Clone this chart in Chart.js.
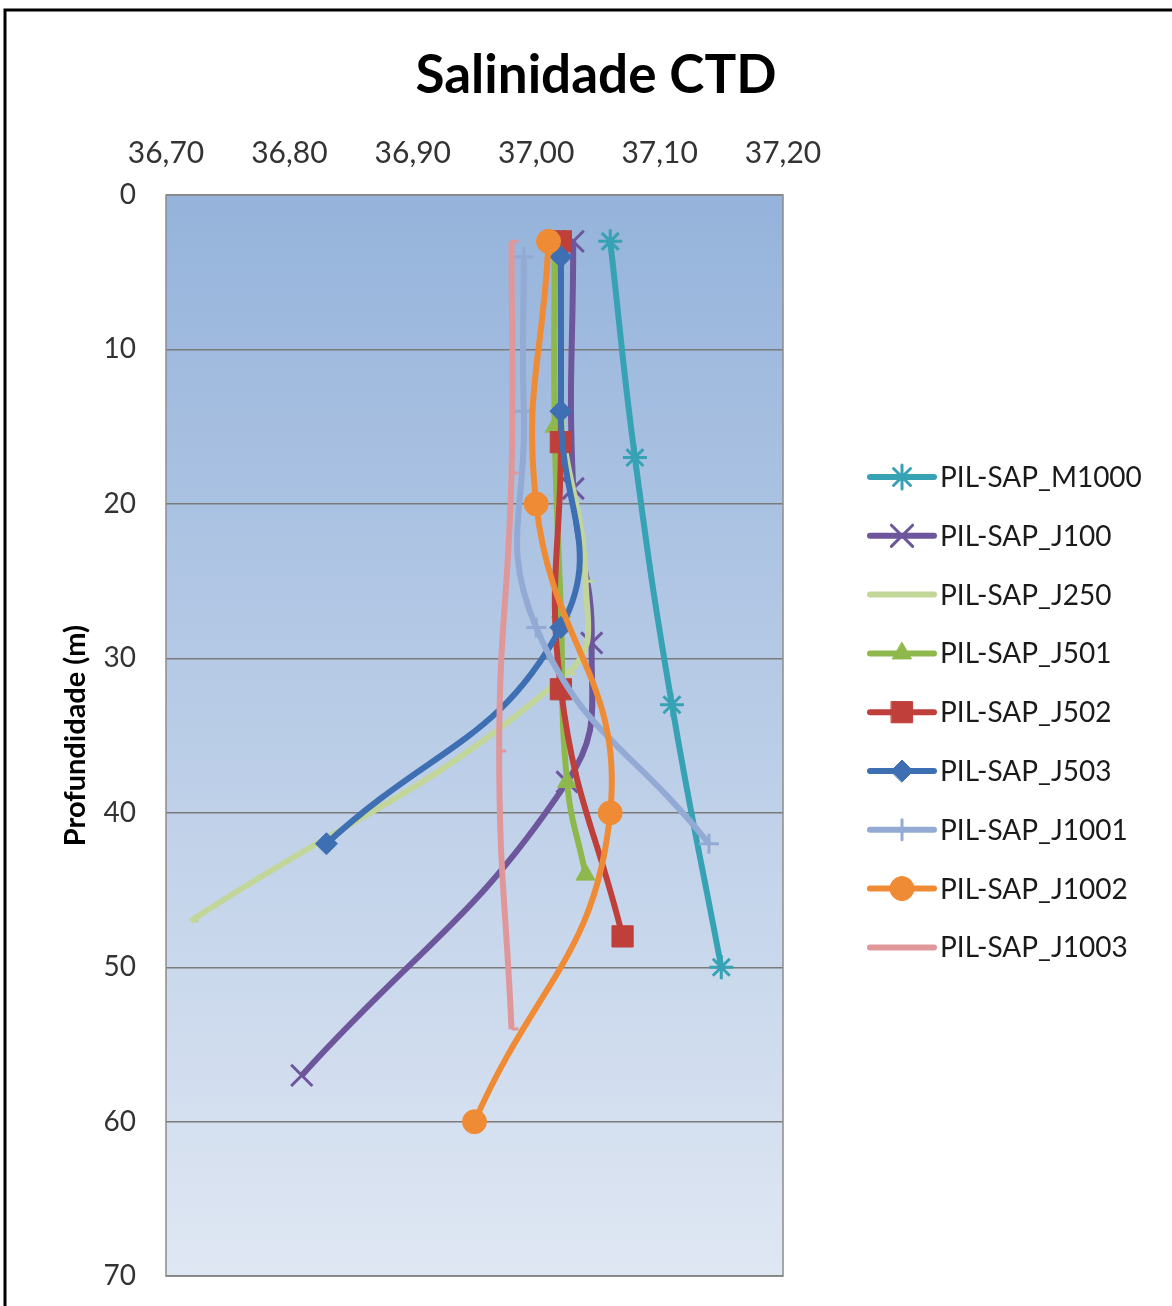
<!DOCTYPE html>
<html>
<head>
<meta charset="utf-8">
<script src="https://cdn.jsdelivr.net/npm/chart.js@4.4.1/dist/chart.umd.min.js"></script>
<style>
  html, body { margin: 0; padding: 0; background: #fff; overflow: hidden; }
  #wrap { width: 1172px; height: 1323px; position: relative; }
</style>
</head>
<body>
<div id="wrap"><canvas id="ctd"></canvas></div>
<script>
// salinity (x) vs depth in metres (y), one array pair per station
const xTicks = [36.70, 36.80, 36.90, 37.00, 37.10, 37.20];
const depthTicks = [0, 10, 20, 30, 40, 50, 60, 70];

const seriesNames = ["PIL-SAP_M1000", "PIL-SAP_J100", "PIL-SAP_J250", "PIL-SAP_J501", "PIL-SAP_J502",
                     "PIL-SAP_J503", "PIL-SAP_J1001", "PIL-SAP_J1002", "PIL-SAP_J1003"];

const salM1000 = [37.06, 37.08, 37.11, 37.15];
const depM1000 = [3, 17, 33, 50];

const salJ100 = [37.03, 37.03, 37.045, 37.025, 36.81];
const depJ100 = [3, 19, 29, 38, 57];

const salJ250 = [37.02, 37.02, 37.04, 37.025, 36.72];
const depJ250 = [3, 14, 25, 31, 47];

const salJ501 = [37.015, 37.015, 37.02, 37.025, 37.04];
const depJ501 = [3, 15, 27, 38, 44];

const salJ502 = [37.02, 37.02, 37.02, 37.07];
const depJ502 = [3, 16, 32, 48];

const salJ503 = [37.02, 37.02, 37.02, 36.83];
const depJ503 = [4, 14, 28, 42];

const salJ1001 = [36.99, 36.99, 37.00, 37.14];
const depJ1001 = [4, 14, 28, 42];

const salJ1002 = [37.01, 37.00, 37.06, 36.95];
const depJ1002 = [3, 20, 40, 60];

const salJ1003 = [36.98, 36.98, 36.97, 36.98];
const depJ1003 = [3, 18, 36, 54];

const salinity = [salM1000, salJ100, salJ250, salJ501, salJ502, salJ503, salJ1001, salJ1002, salJ1003];
const depth = [depM1000, depJ100, depJ250, depJ501, depJ502, depJ503, depJ1001, depJ1002, depJ1003];

const colors = ["#36a2b4", "#6e569c", "#c2d69a", "#8fb84c", "#bf3f3b", "#3f6fb3", "#93aad4", "#f08b35", "#df979a"];
const markers = ["star", "crossRot", "dash", "triangle", "rect", "rectRot", "cross", "circle", "dash"];
const markerSize = [12, 15, 8, 11, 15, 11, 10, 12, 7];

const FONT = "Lato, 'Open Sans', sans-serif";

function makePoints(i) {
    return salinity[i].map((s, k) => ({ x: s, y: depth[i][k] }));
}

const datasets = seriesNames.map((name, i) => {
    const open = ["star", "crossRot", "cross", "dash"].includes(markers[i]);
    return {
        label: name,
        data: makePoints(i),
        showLine: true,
        tension: 0.45,
        borderColor: colors[i],
        backgroundColor: colors[i],
        borderWidth: 6,
        pointStyle: markers[i],
        pointRadius: markerSize[i],
        pointBorderColor: colors[i],
        pointBackgroundColor: colors[i],
        pointBorderWidth: open ? 3 : 1,
        order: seriesNames.length - i
    };
});

// blue gradient plot background, outer frame, title and legend
const decor = {
    id: "decor",
    beforeDraw(chart) {
        const { ctx, chartArea: a } = chart;
        ctx.save();
        const g = ctx.createLinearGradient(0, a.top, 0, a.bottom);
        g.addColorStop(0, "#95b3db");
        g.addColorStop(1, "#dfe7f3");
        ctx.fillStyle = g;
        ctx.fillRect(a.left, a.top, a.right - a.left, a.bottom - a.top);
        ctx.restore();
    },
    afterDraw(chart) {
        const { ctx, chartArea: a } = chart;
        ctx.save();
        // plot frame
        ctx.strokeStyle = "#8c8c8c";
        ctx.lineWidth = 1.5;
        ctx.strokeRect(a.left, a.top, a.right - a.left, a.bottom - a.top);
        // outer border
        ctx.strokeStyle = "#000";
        ctx.lineWidth = 3;
        ctx.strokeRect(5, 10, 1200, 1400);
        // title
        ctx.fillStyle = "#000";
        ctx.font = "bold 53px " + FONT;
        ctx.textAlign = "center";
        ctx.textBaseline = "middle";
        ctx.fillText("Salinidade CTD", 596, 76);
        // legend
        ctx.font = "28px " + FONT;
        ctx.textAlign = "left";
        chart.data.datasets.forEach((ds, i) => {
            const y = 477 + i * 58.8;
            ctx.strokeStyle = ds.borderColor;
            ctx.lineWidth = 6;
            ctx.lineCap = "round";
            ctx.beginPath();
            ctx.moveTo(870, y);
            ctx.lineTo(934, y);
            ctx.stroke();
            if (Chart.helpers && Chart.helpers.drawPoint) {
                ctx.fillStyle = ds.pointBackgroundColor;
                ctx.strokeStyle = ds.pointBorderColor;
                ctx.lineWidth = ds.pointBorderWidth;
                Chart.helpers.drawPoint(ctx, { pointStyle: ds.pointStyle, radius: ds.pointRadius, rotation: 0, borderWidth: ds.pointBorderWidth }, 902, y);
            }
            ctx.fillStyle = "#1a1a1a";
            ctx.fillText(ds.label, 940, y + 1);
        });
        ctx.restore();
    }
};

new Chart(document.getElementById("ctd"), {
    type: "scatter",
    data: { datasets: datasets },
    options: {
        responsive: true,
        maintainAspectRatio: false,
        animation: false,
        layout: { padding: { left: 0, top: 0, right: 1172 - 783, bottom: 14 } },
        plugins: {
            legend: { display: false },
            tooltip: { enabled: false }
        },
        scales: {
            x: {
                type: "linear",
                position: "top",
                min: xTicks[0],
                max: xTicks[xTicks.length - 1],
                afterFit(scale) { scale.height = 195; },
                afterBuildTicks(scale) { scale.ticks = xTicks.map(v => ({ value: v })); },
                grid: { display: false, drawTicks: false },
                border: { display: false },
                ticks: {
                    padding: 24,
                    color: "#333",
                    font: { family: FONT, size: 30 },
                    callback: v => v.toFixed(2).replace(".", ",")
                }
            },
            y: {
                type: "linear",
                reverse: true,
                min: 0,
                max: 70,
                afterFit(scale) { scale.width = 166; },
                afterBuildTicks(scale) { scale.ticks = depthTicks.map(v => ({ value: v })); },
                grid: { color: "#7a7a7a", lineWidth: 1.5, drawTicks: false },
                border: { display: false },
                ticks: {
                    padding: 30,
                    color: "#333",
                    font: { family: FONT, size: 28 }
                },
                title: {
                    display: true,
                    text: "Profundidade (m)",
                    color: "#000",
                    font: { family: FONT, size: 29, weight: "bold" },
                    padding: { top: 58, bottom: 0 }
                }
            }
        }
    },
    plugins: [decor]
});
</script>
</body>
</html>
